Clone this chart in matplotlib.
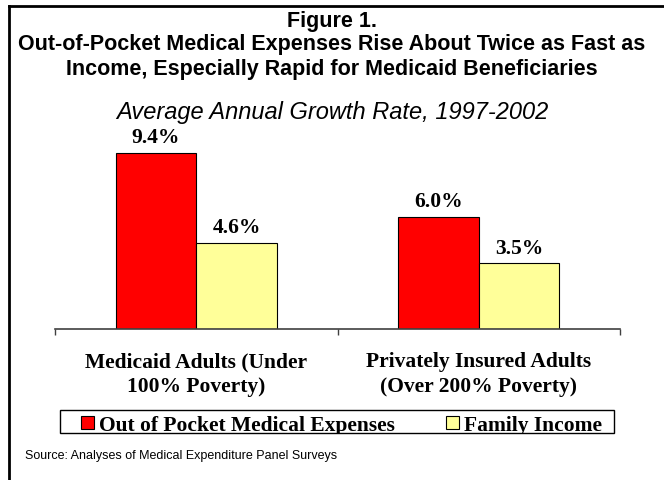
import numpy as np
import matplotlib.pyplot as plt
from matplotlib.lines import Line2D
from matplotlib.patches import Rectangle
from matplotlib.transforms import Bbox

groups = ['Medicaid Adults (Under\n100% Poverty)', 'Privately Insured Adults\n(Over 200% Poverty)']
series_names = ['Out of Pocket Medical Expenses', 'Family Income']
oop_expenses = [9.4, 6.0]
family_income = [4.6, 3.5]
colors = ['#ff0000', '#ffff99']

W, H = 664, 481
fig = plt.figure(figsize=(W / 100, H / 100), dpi=100)

# axes placed in pixel units of the reference
ax = fig.add_axes([55 / W, (H - 330) / H, 565 / W, 187.5 / H])

x = np.arange(len(groups))
w = 0.285
b1 = ax.bar(x - w / 2, oop_expenses, w, color=colors[0], edgecolor='black', linewidth=0.8,
            label=series_names[0])
b2 = ax.bar(x + w / 2, family_income, w, color=colors[1], edgecolor='black', linewidth=0.8,
            label=series_names[1])

for bars, vals in [(b1, oop_expenses), (b2, family_income)]:
    for r, v in zip(bars, vals):
        ax.annotate(f'{v:.1f}%', (r.get_x() + r.get_width() / 2, v), xytext=(0, 4),
                    textcoords='offset points', ha='center', va='bottom',
                    family='Liberation Serif', fontweight='bold', fontsize=15.5)

ax.set_xlim(-0.5, 1.5)
ax.set_ylim(0, 10)
ax.set_yticks([])
ax.set_xticks([-0.5, 0.5, 1.5])
ax.set_xticklabels([])
ax.tick_params(axis='x', direction='out', length=4.5, width=1, color='#404040')
for s in ['top', 'right', 'left']:
    ax.spines[s].set_visible(False)
ax.spines['bottom'].set_color('#404040')
ax.spines['bottom'].set_linewidth(1.2)

for xi, g in zip(x, groups):
    ax.annotate(g, (xi, 0), xycoords=('data', 'axes fraction'), xytext=(0, -16),
                textcoords='offset points', ha='center', va='top',
                family='Liberation Serif', fontweight='bold', fontsize=15.5, linespacing=1.3)

# titles
tkw = dict(ha='center', va='center', family='Liberation Sans', fontweight='bold', fontsize=15.5)
fig.text(0.5, 1 - 21 / H, 'Figure 1.', **tkw)
fig.text(0.5, 1 - 45 / H, 'Out-of-Pocket Medical Expenses Rise About Twice as Fast as', **tkw)
fig.text(0.5, 1 - 70 / H, 'Income, Especially Rapid for Medicaid Beneficiaries', **tkw)
fig.text(0.5, 1 - 113 / H, 'Average Annual Growth Rate, 1997-2002', ha='center', va='center',
         family='Liberation Sans', style='italic', fontsize=17)

# legend: box drawn separately, text clipped at its lower edge as in the original
leg = fig.legend(handles=[b1, b2], loc='lower left', ncol=2,
                 bbox_to_anchor=(81 / W, (H - 436) / H),
                 prop={'family': 'Liberation Serif', 'weight': 'bold', 'size': 15.5},
                 handlelength=0.6, handleheight=0.6, handletextpad=0.25,
                 borderpad=0, borderaxespad=0, columnspacing=2.35, frameon=False)
clip = Bbox.from_extents(60, H - 434, 614, H - 411)
for t in leg.get_texts():
    t.set_clip_box(clip)
    t.set_clip_on(True)
fig.add_artist(Rectangle((60 / W, (H - 434) / H), 554 / W, 23 / H, fill=False,
                         edgecolor='black', linewidth=1, transform=fig.transFigure))

fig.text(25 / W, 1 - 456 / H, 'Source: Analyses of Medical Expenditure Panel Surveys',
         ha='left', va='center', family='Liberation Sans', fontsize=9)

# outer frame: top and left only
fig.add_artist(Line2D([9 / W, 9 / W], [0, 1 - 7 / H], color='black', linewidth=2,
                      transform=fig.transFigure))
fig.add_artist(Line2D([9 / W, 1], [1 - 7 / H, 1 - 7 / H], color='black', linewidth=2,
                      transform=fig.transFigure))

fig.savefig('out.png', dpi=100)
